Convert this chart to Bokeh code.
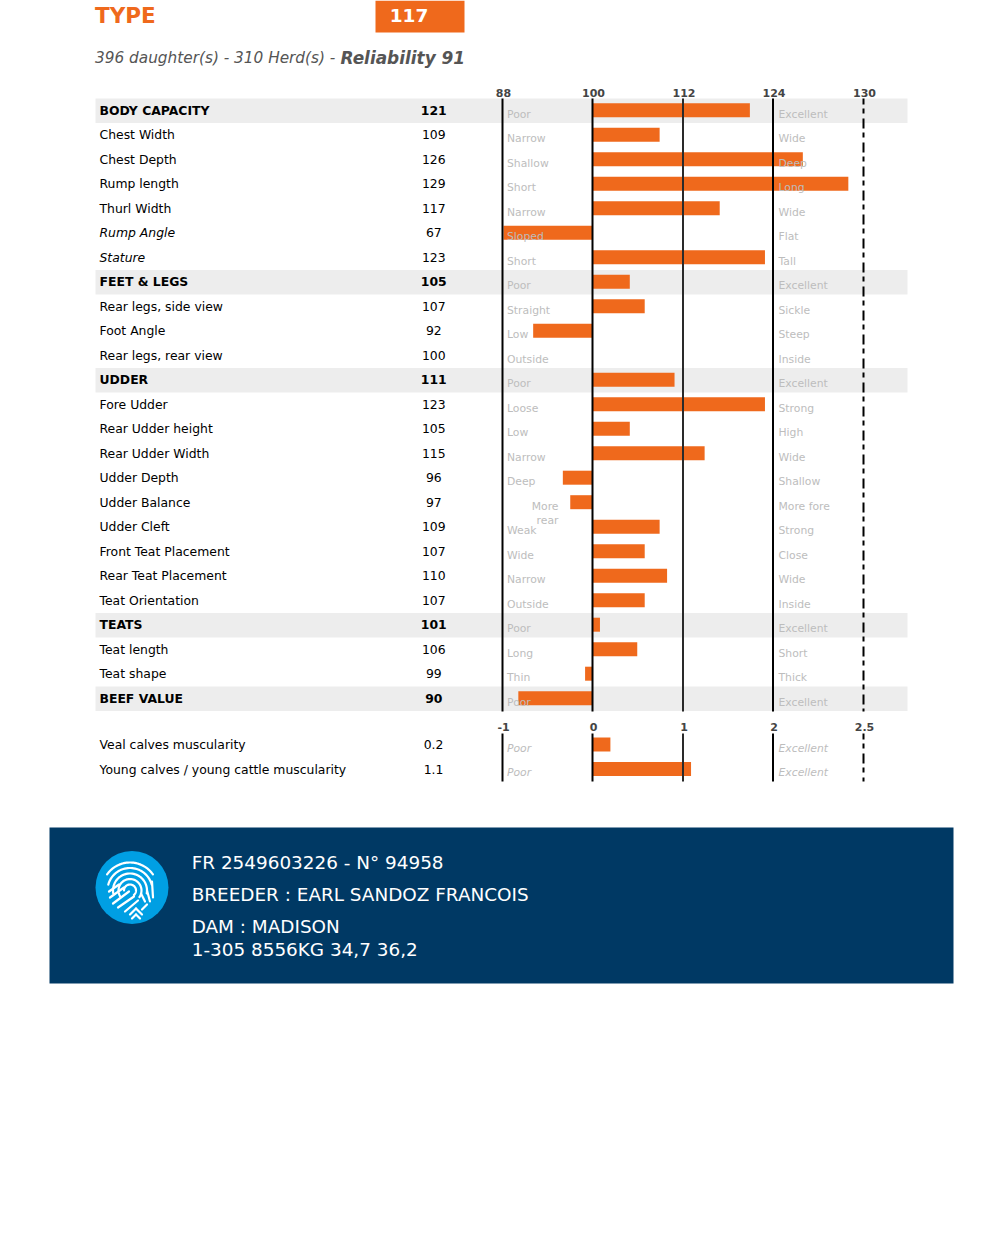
from bokeh.plotting import figure
from bokeh.models import Range1d
from bokeh.core.properties import value
from bokeh.embed import file_html
from bokeh.resources import INLINE
import numpy as np

traits = ["BODY CAPACITY","Chest Width","Chest Depth","Rump length","Thurl Width","Rump Angle","Stature",
          "FEET & LEGS","Rear legs, side view","Foot Angle","Rear legs, rear view",
          "UDDER","Fore Udder","Rear Udder height","Rear Udder Width","Udder Depth","Udder Balance","Udder Cleft",
          "Front Teat Placement","Rear Teat Placement","Teat Orientation",
          "TEATS","Teat length","Teat shape","BEEF VALUE"]
scores = [121,109,126,129,117,67,123,105,107,92,100,111,123,105,115,96,97,109,107,110,107,101,106,99,90]
left_terms = ["Poor","Narrow","Shallow","Short","Narrow","Sloped","Short","Poor","Straight","Low","Outside",
              "Poor","Loose","Low","Narrow","Deep","","Weak","Wide","Narrow","Outside","Poor","Long","Thin","Poor"]
right_terms = ["Excellent","Wide","Deep","Long","Wide","Flat","Tall","Excellent","Sickle","Steep","Inside",
               "Excellent","Strong","High","Wide","Shallow","More fore","Strong","Close","Wide","Inside",
               "Excellent","Short","Thick","Excellent"]
section_rows = ["BODY CAPACITY","FEET & LEGS","UDDER","TEATS","BEEF VALUE"]
italic_rows = ["Rump Angle","Stature"]
ticks_top = [88,100,112,124,130]
muscle_traits = ["Veal calves muscularity","Young calves / young cattle muscularity"]
muscle_scores = [0.2,1.1]
ticks_bottom = [-1,0,1,2,2.5]
ticks_bottom_txt = ["-1","0","1","2","2.5"]
footer_lines = ["FR 2549603226 - N° 94958","BREEDER : EARL SANDOZ FRANCOIS","DAM : MADISON","1-305 8556KG 34,7 36,2"]

ORANGE="#ef691c"; NAVY="#003964"; FONT=value("DejaVu Sans")
W,H=1002,1245
p=figure(width=W,height=H,x_range=Range1d(0,W),y_range=Range1d(H,0),output_backend="svg",toolbar_location=None,
         min_border=0,outline_line_color=None)
p.xaxis.visible=False; p.yaxis.visible=False; p.grid.visible=False

tick_px=[502,592,682.5,772.5,863]
bar_px=[503,592,681.5,772,863]
ROW0,STEP=110.5,24.5
def row_y(i): return ROW0+STEP*np.asarray(i,dtype=float)
def sx_top(v): return np.interp(v,ticks_top,bar_px)
def sx_bot(v): return np.interp(v,ticks_bottom,bar_px)
def txt(x,y,t,size,color="#000",style="normal",align="left",baseline="middle"):
    p.text(x=x,y=y,text=t,text_font=FONT,text_font_size=f"{size}px",text_color=color,text_font_style=style,
           text_align=align,text_baseline=baseline)

# header
p.quad(left=[375],right=[464],top=[0],bottom=[32],fill_color=ORANGE,line_color=None)
txt([94.5],[14.7],["TYPE"],21.5,ORANGE,"bold")
txt([408.5],[15],["117"],18.5,"#ffffff","bold",align="center")
txt([94.5],[57.5],["396 daughter(s) - 310 Herd(s) - "],15.3,"#555555","italic")
txt([340],[57],["Reliability 91"],16.9,"#555555","bold italic")

# bands
idx=np.arange(len(traits))
sec=[i for i,t in enumerate(traits) if t in section_rows]
p.quad(left=95,right=907,top=row_y(sec)-12.5,bottom=row_y(sec)+12,fill_color="#ededed",line_color=None)

# bars
bar_y=row_y(idx)-0.8
p.quad(left=sx_top(100),right=sx_top(scores),top=bar_y-7,bottom=bar_y+7,fill_color=ORANGE,line_color=None)
my=744+np.arange(2)*STEP
p.quad(left=sx_bot(0),right=sx_bot(muscle_scores),top=my-7,bottom=my+7,fill_color=ORANGE,line_color=None)

# reference lines
for k,x in enumerate(tick_px):
    for y0,y1 in ((98,711),(733,781)):
        col="#2a2a2a" if k==2 else "#000000"
        if k==4:
            p.segment(x0=[x],x1=[x],y0=[y0],y1=[y1],line_color="#000000",line_width=2,line_dash="10 4 5 5",line_dash_offset=4)
        else:
            p.segment(x0=[x],x1=[x],y0=[y0],y1=[y1],line_color=col,line_width=2)

# tick labels
label_x=np.array(tick_px)+1
txt(label_x,[92.7]*5,[str(t) for t in ticks_top],11,"#444444","bold",align="center")
txt(label_x,[726.7]*5,ticks_bottom_txt,11,"#444444","bold",align="center")

# row text
for i,t in enumerate(traits):
    st="bold" if t in section_rows else ("italic" if t in italic_rows else "normal")
    ty=row_y(i)-1
    txt([99],[ty],[t],12.4,"#000000",st)
    txt([433.3],[ty],[str(scores[i])],12.4,"#000000","bold" if t in section_rows else "normal",align="center")
    if left_terms[i]: txt([506.5],[ty+4.2],[left_terms[i]],10.8,"#bdbdbd")
    txt([778],[ty+4.2],[right_terms[i]],10.8,"#bdbdbd")
ub=traits.index("Udder Balance")
txt([558,558],[row_y(ub)+3,row_y(ub)+17],["More","rear"],10.8,"#bdbdbd",align="right")

for i,t in enumerate(muscle_traits):
    y=744+i*STEP
    txt([99],[y],[t],12.4,"#000000")
    txt([433],[y],[str(muscle_scores[i])],12.4,"#000000",align="center")
    txt([506.5],[y+3.7],["Poor"],10.8,"#bdbdbd","italic")
    txt([778],[y+3.7],["Excellent"],10.8,"#bdbdbd","italic")

# footer
p.quad(left=[49],right=[953],top=[827],bottom=[983],fill_color=NAVY,line_color=None)
txt([191.2]*4,[861.7,893.7,925.7,948.7],footer_lines,18.4,"#ffffff")

# fingerprint badge
cx,cy=131.5,887
p.circle(x=[cx],y=[cy],radius=36.5,fill_color="#009fe3",line_color=None)
ox,oy=cx-2,cy+3
for r,a0,a1 in [(28,215,325),(22.5,195,345),(17,170,370),(11.5,150,395),(6,180,410)]:
    th=np.radians(np.linspace(a0,a1,40))
    p.line(x=ox+r*np.cos(th),y=oy+r*np.sin(th),line_color="#ffffff",line_width=2.2,line_cap="round")
strokes=[((-23,4),(-13,-3)),((-22,10),(-8,0)),((-19,16),(-3,4)),((-14,20),(2,9)),((-7,24),(6,13)),
         ((9,6),(13,14)),((15,3),(18,14)),((10,22),(15,17)),((20,-6),(21,10)),((-2,27),(4,21)),((4,21),(10,27)),((0,31),(4,27)),((4,27),(8,31))]
for a,b in strokes:
    p.line(x=[cx+a[0],cx+b[0]],y=[cy+a[1],cy+b[1]],line_color="#ffffff",line_width=2.2,line_cap="round")

open("out.html","w").write(file_html(p,INLINE))
